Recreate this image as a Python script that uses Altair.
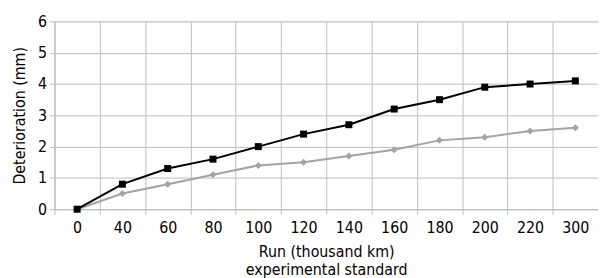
import altair as alt
import pandas as pd

runs = ["0", "40", "60", "80", "100", "120", "140", "160", "180", "200", "220", "300"]
standard = [0.0, 0.8, 1.3, 1.6, 2.0, 2.4, 2.7, 3.2, 3.5, 3.9, 4.0, 4.1]
improved = [0.0, 0.5, 0.8, 1.1, 1.4, 1.5, 1.7, 1.9, 2.2, 2.3, 2.5, 2.6]
y_ticks = [0, 1, 2, 3, 4, 5, 6]

df_black = pd.DataFrame({"run": runs, "value": standard})
df_gray = pd.DataFrame({"run": runs, "value": improved})

FONT = "'DejaVu Sans Condensed', sans-serif"
GRID = "#bdbdbd"

x_enc = alt.X(
    "run:N",
    sort=runs,
    scale=alt.Scale(type="band", paddingInner=0, paddingOuter=0),
    axis=alt.Axis(
        title=["Run (thousand km)", "experimental standard"],
        labelAngle=0,
        tickBand="extent",
        grid=True,
        gridColor=GRID,
        domainColor=GRID,
        tickColor=GRID,
        tickSize=5,
        labelPadding=6,
        labelFontSize=16,
        titleFontSize=16,
        titleFontWeight="normal",
        titleLineHeight=18,
        titlePadding=8,
    ),
)
y_enc = alt.Y(
    "value:Q",
    scale=alt.Scale(domain=[0, 6], nice=False, zero=True),
    axis=alt.Axis(
        title="Deterioration (mm)",
        values=y_ticks,
        grid=True,
        gridColor=GRID,
        domainColor=GRID,
        tickColor=GRID,
        tickSize=5,
        labelPadding=3,
        labelFontSize=16,
        titleFontSize=16,
        titleFontWeight="normal",
        titlePadding=10,
    ),
)

gray_line = alt.Chart(df_gray).mark_line(color="#a3a3a3", strokeWidth=2).encode(x=x_enc, y=y_enc)
gray_pts = alt.Chart(df_gray).mark_point(
    shape="diamond", filled=True, color="#a3a3a3", size=50, opacity=1
).encode(x=x_enc, y=y_enc)
black_line = alt.Chart(df_black).mark_line(color="#000000", strokeWidth=2).encode(x=x_enc, y=y_enc)
black_pts = alt.Chart(df_black).mark_point(
    shape="square", filled=True, color="#000000", size=50, opacity=1
).encode(x=x_enc, y=y_enc)

chart = (
    alt.layer(gray_line, gray_pts, black_line, black_pts)
    .properties(
        width=550,
        height=190,
        autosize=alt.AutoSizeParams(type="none"),
        padding={"left": 47, "top": 12, "right": 0, "bottom": 68},
    )
    .configure_view(stroke=None)
    .configure(font=FONT)
    .configure_axis(labelFont=FONT, titleFont=FONT, labelColor="#000000", titleColor="#000000")
)

chart.save("out.html", embed_options={"renderer": "svg", "actions": False})
